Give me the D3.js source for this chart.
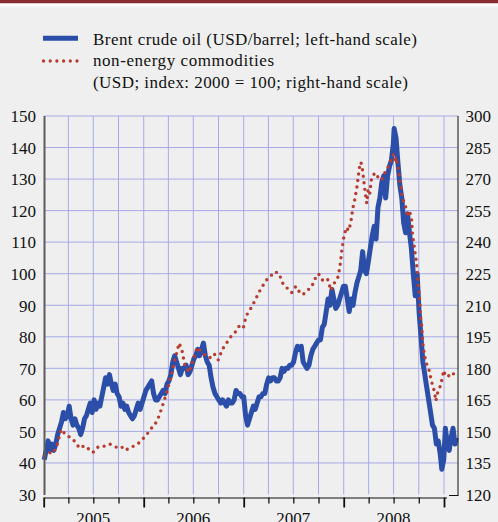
<!DOCTYPE html>
<html>
<head>
<meta charset="utf-8">
<script src="https://cdn.jsdelivr.net/npm/d3@7"></script>
<style>
html, body { margin: 0; padding: 0; background: #efefef; }
svg { display: block; }
svg text { font-family: 'Liberation Serif', 'Times New Roman', Tinos, 'DejaVu Serif', 'Noto Serif', serif; }
</style>
</head>
<body>
<svg id="chart" width="498" height="522"></svg>
<script>
// Brent crude oil, USD/barrel (left-hand scale)
let brent = [
    ['2005-01-03',41],['2005-01-10',44],['2005-01-17',47],['2005-01-24',44],['2005-01-31',46],['2005-02-07',44],
    ['2005-02-14',46],['2005-02-21',49],['2005-02-28',51],['2005-03-07',53],['2005-03-14',56],['2005-03-21',54],
    ['2005-03-28',55],['2005-04-04',58],['2005-04-11',54],['2005-04-18',52],['2005-04-25',54],['2005-05-02',52],
    ['2005-05-09',51],['2005-05-16',49],['2005-05-23',51],['2005-05-30',54],['2005-06-06',55],['2005-06-13',57],
    ['2005-06-20',59],['2005-06-27',56],['2005-07-04',60],['2005-07-11',57],['2005-07-18',59],['2005-07-25',58],
    ['2005-08-01',61],['2005-08-08',64],['2005-08-15',67],['2005-08-22',65],['2005-08-29',68],['2005-09-05',65],
    ['2005-09-12',63],['2005-09-19',65],['2005-09-26',62],['2005-10-03',61],['2005-10-10',58],['2005-10-17',59],
    ['2005-10-24',57],['2005-10-31',58],['2005-11-07',56],['2005-11-14',55],['2005-11-21',54],['2005-11-28',55],
    ['2005-12-05',57],['2005-12-12',59],['2005-12-19',57],['2005-12-26',59],
    ['2006-01-02',61],['2006-01-09',63],['2006-01-16',64],['2006-01-23',65],['2006-01-30',66],['2006-02-06',62],
    ['2006-02-13',60],['2006-02-20',60],['2006-02-27',61],['2006-03-06',62],['2006-03-13',63],['2006-03-20',62],
    ['2006-03-27',65],['2006-04-03',66],['2006-04-10',68],['2006-04-17',72],['2006-04-24',74],['2006-05-01',72],
    ['2006-05-08',70],['2006-05-15',68],['2006-05-22',70],['2006-05-29',70],['2006-06-05',71],['2006-06-12',68],
    ['2006-06-19',69],['2006-06-26',71],['2006-07-03',73],['2006-07-10',74],['2006-07-17',76],['2006-07-24',74],
    ['2006-07-31',76],['2006-08-07',78],['2006-08-14',74],['2006-08-21',72],['2006-08-28',71],['2006-09-04',67],
    ['2006-09-11',64],['2006-09-18',62],['2006-09-25',61],['2006-10-02',60],['2006-10-09',59],['2006-10-16',60],
    ['2006-10-23',59],['2006-10-30',58],['2006-11-06',60],['2006-11-13',59],['2006-11-20',59],['2006-11-27',60],
    ['2006-12-04',63],['2006-12-11',62],['2006-12-18',62],['2006-12-25',61],
    ['2007-01-01',61],['2007-01-08',55],['2007-01-15',52],['2007-01-22',54],['2007-01-29',56],['2007-02-05',58],
    ['2007-02-12',57],['2007-02-19',59],['2007-02-26',61],['2007-03-05',61],['2007-03-12',62],['2007-03-19',62],
    ['2007-03-26',65],['2007-04-02',67],['2007-04-09',66],['2007-04-16',67],['2007-04-23',67],['2007-04-30',66],
    ['2007-05-07',66],['2007-05-14',67],['2007-05-21',70],['2007-05-28',69],['2007-06-04',70],['2007-06-11',70],
    ['2007-06-18',71],['2007-06-25',71],['2007-07-02',72],['2007-07-09',75],['2007-07-16',77],['2007-07-23',76],
    ['2007-07-30',77],['2007-08-06',72],['2007-08-13',71],['2007-08-20',70],['2007-08-27',71],['2007-09-03',74],
    ['2007-09-10',76],['2007-09-17',77],['2007-09-24',78],['2007-10-01',79],['2007-10-08',79],['2007-10-15',83],
    ['2007-10-22',84],['2007-10-29',88],['2007-11-05',92],['2007-11-12',90],['2007-11-19',95],['2007-11-26',92],
    ['2007-12-03',89],['2007-12-10',90],['2007-12-17',92],['2007-12-24',94],['2007-12-31',96],
    ['2008-01-07',96],['2008-01-14',92],['2008-01-21',88],['2008-01-28',92],['2008-02-04',90],['2008-02-11',94],
    ['2008-02-18',97],['2008-02-25',99],['2008-03-03',101],['2008-03-10',107],['2008-03-17',101],['2008-03-24',100],
    ['2008-03-31',104],['2008-04-07',108],['2008-04-14',112],['2008-04-21',115],['2008-04-28',111],['2008-05-05',121],
    ['2008-05-12',124],['2008-05-19',129],['2008-05-26',131],['2008-06-02',124],['2008-06-09',131],['2008-06-16',134],
    ['2008-06-23',136],['2008-06-30',141],['2008-07-03',146],['2008-07-10',143],['2008-07-17',135],['2008-07-24',128],
    ['2008-07-31',124],['2008-08-07',116],['2008-08-14',113],['2008-08-21',119],['2008-08-28',113],['2008-09-04',108],
    ['2008-09-11',100],['2008-09-18',93],['2008-09-25',100],['2008-10-02',88],['2008-10-09',80],['2008-10-16',72],
    ['2008-10-23',68],['2008-10-30',64],['2008-11-06',60],['2008-11-13',56],['2008-11-20',52],['2008-11-27',51],
    ['2008-12-04',46],['2008-12-11',47],['2008-12-18',43],['2008-12-24',38],['2008-12-31',41],
    ['2009-01-06',51],['2009-01-13',46],['2009-01-20',44],['2009-01-27',48],['2009-02-03',51],['2009-02-10',46],
    ['2009-02-14',48]
]

// non-energy commodities, USD index 2000 = 100 (right-hand scale)
let nonEnergy = [
    ['2005-01-04',138.5],['2005-01-18',140],['2005-02-02',139.5],['2005-02-17',142.5],['2005-03-06',151],
    ['2005-03-25',148],['2005-04-12',147],['2005-04-26',145],['2005-05-12',142],['2005-05-26',143],
    ['2005-06-05',143],['2005-06-18',141],['2005-06-30',140],['2005-07-12',142],['2005-07-24',143],
    ['2005-08-12',143],['2005-08-30',144],['2005-09-23',142.5],['2005-10-10',143],['2005-10-25',141],
    ['2005-11-10',142],['2005-11-25',143],['2005-12-10',144],['2005-12-25',146],
    ['2006-01-10',148],['2006-01-25',151],['2006-02-10',153],['2006-02-25',157],['2006-03-10',162],
    ['2006-03-25',168],['2006-04-10',176],['2006-04-25',184],['2006-05-10',192],['2006-05-20',189],
    ['2006-06-01',181],['2006-06-15',178],['2006-06-30',184],['2006-07-15',190],['2006-07-30',188],
    ['2006-08-15',186],['2006-08-30',185],['2006-09-15',187],['2006-09-30',184],['2006-10-15',189],
    ['2006-10-30',192],['2006-11-15',195],['2006-11-30',197],['2006-12-15',200],['2006-12-30',199],
    ['2007-01-10',205],['2007-01-25',208],['2007-02-10',212],['2007-02-25',216],['2007-03-10',219],
    ['2007-03-25',222],['2007-04-10',224],['2007-04-25',226],['2007-05-10',225],['2007-05-25',220],
    ['2007-06-10',218],['2007-06-25',216],['2007-07-10',219],['2007-07-25',216],['2007-08-05',215],
    ['2007-08-20',217],['2007-09-05',218.5],['2007-09-20',223],['2007-10-01',225],['2007-10-15',222],
    ['2007-10-25',223],['2007-11-05',222],['2007-11-15',217],['2007-11-25',220],['2007-12-10',223],
    ['2007-12-18',228],['2007-12-25',236],
    ['2008-01-01',242],['2008-01-10',247],['2008-01-20',245.5],['2008-01-28',250.5],['2008-02-03',256],
    ['2008-02-10',260],['2008-02-18',266],['2008-02-25',273],['2008-03-01',278],['2008-03-05',277.5],
    ['2008-03-10',274],['2008-03-18',265],['2008-03-25',258.5],['2008-03-30',265],['2008-04-05',263],
    ['2008-04-12',271],['2008-04-25',273],['2008-05-05',271],['2008-05-18',269.5],['2008-05-30',273],
    ['2008-06-10',275.5],['2008-06-22',279],['2008-07-02',282],['2008-07-06',278],['2008-07-10',280.5],
    ['2008-07-20',273],['2008-07-28',266],['2008-08-01',261.5],['2008-08-15',256.5],['2008-08-20',252],
    ['2008-08-28',255],['2008-09-05',250.5],['2008-09-08',244],['2008-09-15',237],['2008-09-22',231],
    ['2008-09-26',225],['2008-10-02',216],['2008-10-08',204],['2008-10-12',199.5],['2008-10-16',191.5],
    ['2008-10-22',186],['2008-10-30',182],['2008-11-06',180],['2008-11-15',174.5],['2008-11-28',168.5],
    ['2008-12-02',164.5],['2008-12-10',169],['2008-12-20',172],['2008-12-31',179],
    ['2009-01-06',176.5],['2009-01-15',176],['2009-01-25',177.5],['2009-02-01',178],['2009-02-12',176]
]

let leftTicks = d3.range( 30, 151, 10 )
let rightTicks = d3.range( 120, 301, 15 )
let yearLabels = [ 2005, 2006, 2007, 2008 ]
let legendLabels = [ 'Brent crude oil (USD/barrel; left-hand scale)', 'non-energy commodities', '(USD; index: 2000 = 100; right-hand scale)' ]

let parse = d3.timeParse( '%Y-%m-%d' )
let brentData = brent.map( d => ( { date: parse( d[0] ), v: d[1] } ) )
let indexData = nonEnergy.map( d => ( { date: parse( d[0] ), v: d[1] } ) )

let svg = d3.select( 'svg#chart' )

let plotLeft = 44.5, plotRight = 458, plotTop = 116, plotBottom = 494.5

let x = d3.scaleTime().domain( [ new Date( 2005, 0, 1 ), new Date( 2009, 0, 1 ) ] ).range( [ 43.7, 444 ] )
let yL = d3.scaleLinear().domain( [ 30, 150 ] ).range( [ plotBottom, plotTop ] )
let yR = d3.scaleLinear().domain( [ 120, 300 ] ).range( [ plotBottom, plotTop ] )

// header band
svg.append( 'rect' ).attr( 'x', 0 ).attr( 'y', 0 ).attr( 'width', 498 ).attr( 'height', 3.5 ).attr( 'fill', '#8b2f35' )
svg.append( 'rect' ).attr( 'x', 0 ).attr( 'y', 3.5 ).attr( 'width', 498 ).attr( 'height', 3 ).attr( 'fill', '#ffffff' )

// legend
let legend = svg.append( 'g' ).attr( 'font-size', '17px' ).attr( 'fill', '#111' )
legend.append( 'line' ).attr( 'x1', 43 ).attr( 'x2', 78 ).attr( 'y1', 38.3 ).attr( 'y2', 38.3 )
    .attr( 'stroke', '#2b4ea8' ).attr( 'stroke-width', 5 )
legend.append( 'line' ).attr( 'x1', 43.5 ).attr( 'x2', 78 ).attr( 'y1', 61 ).attr( 'y2', 61 )
    .attr( 'stroke', '#b83b30' ).attr( 'stroke-width', 3.3 ).attr( 'stroke-linecap', 'round' ).attr( 'stroke-dasharray', '0 6.7' )
legend.selectAll( 'text' )
    .data( legendLabels )
    .enter()
    .append( 'text' )
    .attr( 'x', 93 )
    .attr( 'y', ( d, i ) => [ 45, 66, 87.5 ][i] )
    .attr( 'textLength', ( d, i ) => [ 324, 181, 315 ][i] )
    .attr( 'lengthAdjust', 'spacing' )
    .text( d => d )

// grid
let grid = svg.append( 'g' ).attr( 'stroke', '#a7aae6' ).attr( 'stroke-width', 1 )
grid.selectAll( 'line.h' )
    .data( leftTicks.filter( v => v > 30 ) )
    .enter()
    .append( 'line' )
    .attr( 'x1', plotLeft ).attr( 'x2', plotRight )
    .attr( 'y1', d => yL( d ) ).attr( 'y2', d => yL( d ) )
grid.selectAll( 'line.v' )
    .data( d3.timeMonth.every( 3 ).range( new Date( 2005, 3, 1 ), new Date( 2009, 0, 2 ) ) )
    .enter()
    .append( 'line' )
    .attr( 'x1', d => x( d ) ).attr( 'x2', d => x( d ) )
    .attr( 'y1', plotTop ).attr( 'y2', plotBottom )

// series
let plot = svg.append( 'g' )
let brentLine = d3.line().x( d => x( d.date ) ).y( d => yL( d.v ) )
let indexLine = d3.line().x( d => x( d.date ) ).y( d => yR( d.v ) )

plot.append( 'path' )
    .datum( brentData )
    .attr( 'd', brentLine )
    .attr( 'fill', 'none' )
    .attr( 'stroke', '#2b4ea8' )
    .attr( 'stroke-width', 5 )
    .attr( 'stroke-linejoin', 'round' )

plot.append( 'path' )
    .datum( indexData )
    .attr( 'd', indexLine )
    .attr( 'fill', 'none' )
    .attr( 'stroke', '#b83b30' )
    .attr( 'stroke-width', 3.4 )
    .attr( 'stroke-linecap', 'round' )
    .attr( 'stroke-dasharray', '0 6.6' )

// axes
let axL = svg.append( 'g' )
    .attr( 'transform', `translate(${plotLeft},0)` )
    .call( d3.axisLeft( yL ).tickValues( leftTicks ).tickSize( 0 ).tickPadding( 8.5 ) )
axL.select( '.domain' ).remove()
svg.append( 'line' ).attr( 'x1', plotLeft ).attr( 'x2', plotLeft ).attr( 'y1', plotTop ).attr( 'y2', plotBottom + 0.5 )
    .attr( 'stroke', '#5c5c5c' ).attr( 'stroke-width', 2 )

let axR = svg.append( 'g' )
    .attr( 'transform', `translate(${plotRight},0)` )
    .call( d3.axisRight( yR ).tickValues( rightTicks ).tickSize( 0 ).tickPadding( 7.5 ) )
axR.select( '.domain' ).remove()
svg.append( 'line' ).attr( 'x1', plotRight ).attr( 'x2', plotRight ).attr( 'y1', plotTop ).attr( 'y2', plotBottom + 1 )
    .attr( 'stroke', '#111' ).attr( 'stroke-width', 1 )
svg.append( 'line' ).attr( 'x1', plotRight - 9 ).attr( 'x2', plotRight + 0.5 ).attr( 'y1', plotBottom + 1 ).attr( 'y2', plotBottom + 1 )
    .attr( 'stroke', '#111' ).attr( 'stroke-width', 1 )

svg.selectAll( '.tick text' )
    .attr( 'font-size', '17px' )
    .attr( 'fill', '#111' )
    .attr( 'dy', '0.34em' )

let axB = svg.append( 'g' )
    .attr( 'transform', `translate(0,${plotBottom + 3})` )
    .call( d3.axisBottom( x )
        .tickValues( d3.timeMonth.every( 3 ).range( new Date( 2005, 0, 1 ), new Date( 2009, 0, 2 ) ) )
        .tickSize( 6 ).tickFormat( '' ) )
axB.select( '.domain' ).attr( 'd', `M${plotLeft},0.5H447` ).attr( 'stroke', '#111' )
axB.selectAll( '.tick line' )
    .attr( 'stroke', '#111' )
    .attr( 'stroke-width', d => d.getMonth() === 0 ? 1.8 : 1.3 )
    .attr( 'y2', d => d.getMonth() === 0 ? 10 : 6 )

svg.append( 'g' )
    .attr( 'font-size', '17px' )
    .attr( 'fill', '#111' )
    .attr( 'text-anchor', 'middle' )
    .selectAll( 'text' )
    .data( yearLabels )
    .enter()
    .append( 'text' )
    .attr( 'x', d => x( new Date( d, 6, 1 ) ) )
    .attr( 'y', 523.5 )
    .text( d => d )
</script>
</body>
</html>
